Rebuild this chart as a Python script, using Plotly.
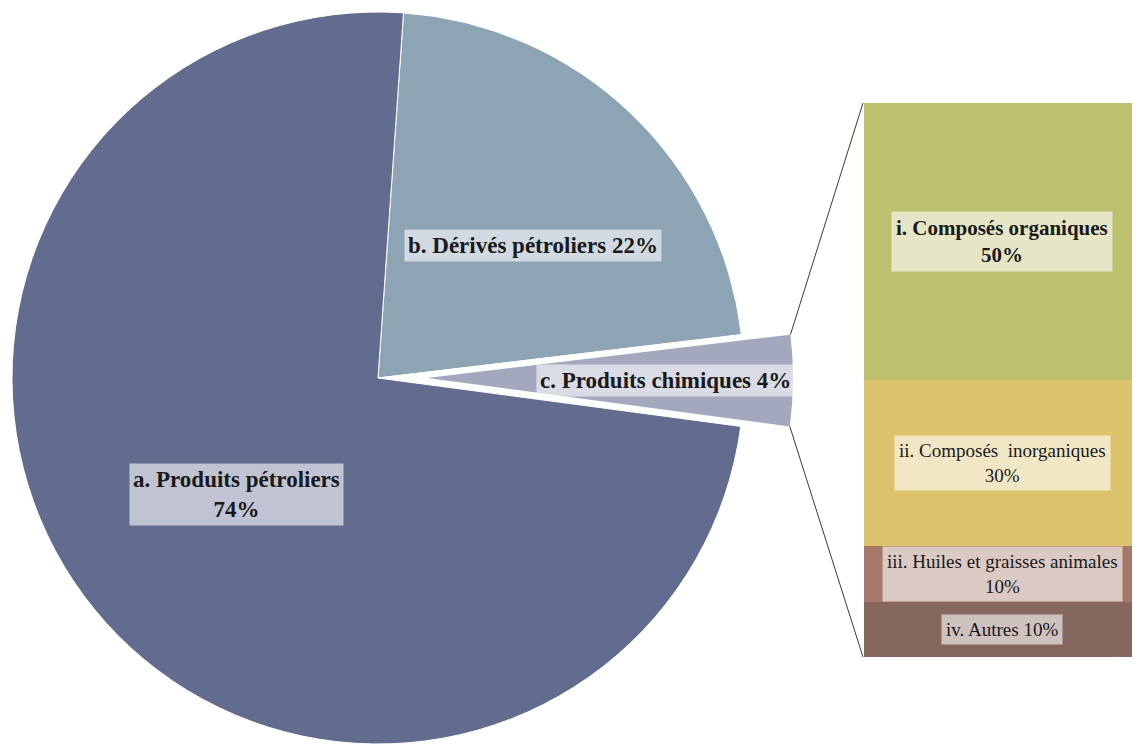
import math
import plotly.graph_objects as go

# main pie: order b, c, a (clockwise)
pie_labels = ["b. Dérivés pétroliers", "c. Produits chimiques", "a. Produits pétroliers"]
pie_values = [22, 4, 74]
pie_colors = ["#8CA4B4", "#A3A8BE", "#626C8E"]

# breakdown of c, bottom to top
bar_labels = ["iv. Autres", "iii. Huiles et graisses animales",
              "ii. Composés inorganiques", "i. Composés organiques"]
bar_values = [10, 10, 30, 50]
bar_colors = ["#86675F", "#A57869", "#DEC36E", "#BCC06F"]

OFF = 8  # page body margin
W, H = 1140 - OFF, 744 - OFF
rotation = 4
pull_px = 49
cx, cy = 378 - OFF, 378 - OFF
r = 366


def px_x(x):
    return (x - OFF) / W


def px_y(y):
    return 1 - (y - OFF) / H


fig = go.Figure()

# pie without slice c
fig.add_trace(
    go.Pie(
        labels=pie_labels,
        values=pie_values,
        sort=False,
        direction="clockwise",
        rotation=rotation,
        marker=dict(colors=[pie_colors[0], "rgba(0,0,0,0)", pie_colors[2]],
                    line=dict(color="white", width=1)),
        textinfo="none",
        hoverinfo="label+percent",
        domain=dict(x=[(cx - r) / W, (cx + r) / W],
                    y=[max(0, 1 - (cy + r) / H), 1 - (cy - r) / H]),
        showlegend=False,
    )
)
# slice c alone, pulled out to the right
fig.add_trace(
    go.Pie(
        labels=pie_labels,
        values=pie_values,
        sort=False,
        direction="clockwise",
        rotation=rotation,
        marker=dict(colors=["rgba(0,0,0,0)", pie_colors[1], "rgba(0,0,0,0)"],
                    line=dict(width=0)),
        textinfo="none",
        hoverinfo="label+percent",
        domain=dict(x=[(cx - r + pull_px) / W, (cx + r + pull_px) / W],
                    y=[max(0, 1 - (cy + r) / H), 1 - (cy - r) / H]),
        showlegend=False,
    )
)

# stacked bar: 0..100 spans pixel rows 657..103
top_px, bot_px = 103 - OFF, 657 - OFF
scale = (bot_px - top_px) / 100
ymin = -(H - bot_px) / scale
ymax = 100 + top_px / scale
bar_x0 = (864 - OFF) / W
bar_x1 = 1
for lab, val, col in zip(bar_labels, bar_values, bar_colors):
    fig.add_trace(
        go.Bar(x=[0.5], y=[val], width=[1], marker=dict(color=col, line=dict(width=0)),
               name=lab, showlegend=False, hoverinfo="name+y")
    )

fig.update_layout(
    barmode="stack",
    bargap=0,
    width=W,
    height=H,
    margin=dict(l=0, r=0, t=0, b=0),
    paper_bgcolor="white",
    plot_bgcolor="rgba(0,0,0,0)",
    xaxis=dict(domain=[bar_x0, bar_x1], range=[0, 1], visible=False, fixedrange=True),
    yaxis=dict(domain=[0, 1], range=[ymin, ymax], visible=False, fixedrange=True),
    font=dict(family="Liberation Serif", color="#1a1a1a"),
)

# bar labels
bar_text = [
    "iv. Autres 10%",
    "iii. Huiles et graisses animales<br>10%",
    "ii. Composés  inorganiques<br>30%",
    "<b>i. Composés organiques<br>50%</b>",
]
bar_sizes = [19, 19, 19, 21]
base = 0
for txt, val, sz in zip(bar_text, bar_values, bar_sizes):
    fig.add_annotation(
        x=0.5, y=base + val / 2, xref="x", yref="y", text=txt,
        showarrow=False, xanchor="center", yanchor="middle",
        font=dict(size=sz, family="Liberation Serif", color="#1a1a1a"),
        bgcolor="rgba(255,255,255,0.6)", borderpad=4,
    )
    base += val

# pie labels
pie_text = [
    ("<b>b. Dérivés pétroliers 22%</b>", 533, 245),
    ("<b>c. Produits chimiques 4%</b>", 665, 380),
    ("<b>a. Produits pétroliers<br>74%</b>", 236, 494),
]
for txt, px, py in pie_text:
    fig.add_annotation(
        x=px_x(px), y=px_y(py), xref="paper", yref="paper", text=txt, showarrow=False,
        xanchor="center", yanchor="middle",
        font=dict(size=23, family="Liberation Serif", color="#1a1a1a"),
        bgcolor="rgba(255,255,255,0.6)", borderpad=3,
    )

# connector lines from slice c to the bar
total = sum(pie_values)
start_c = rotation + 360 * pie_values[0] / total
end_c = start_c + 360 * pie_values[1] / total
ccx = cx + pull_px
for ang, yv in [(start_c, 100), (end_c, 0)]:
    a = math.radians(ang)
    px = ccx + r * math.sin(a)
    py = cy - r * math.cos(a)
    fig.add_shape(
        type="line", xref="paper", yref="paper",
        x0=px / W, y0=1 - py / H, x1=bar_x0 - 1 / W, y1=(yv - ymin) / (ymax - ymin),
        line=dict(color="#3a3a3a", width=1),
    )

fig.write_html("out.html")
